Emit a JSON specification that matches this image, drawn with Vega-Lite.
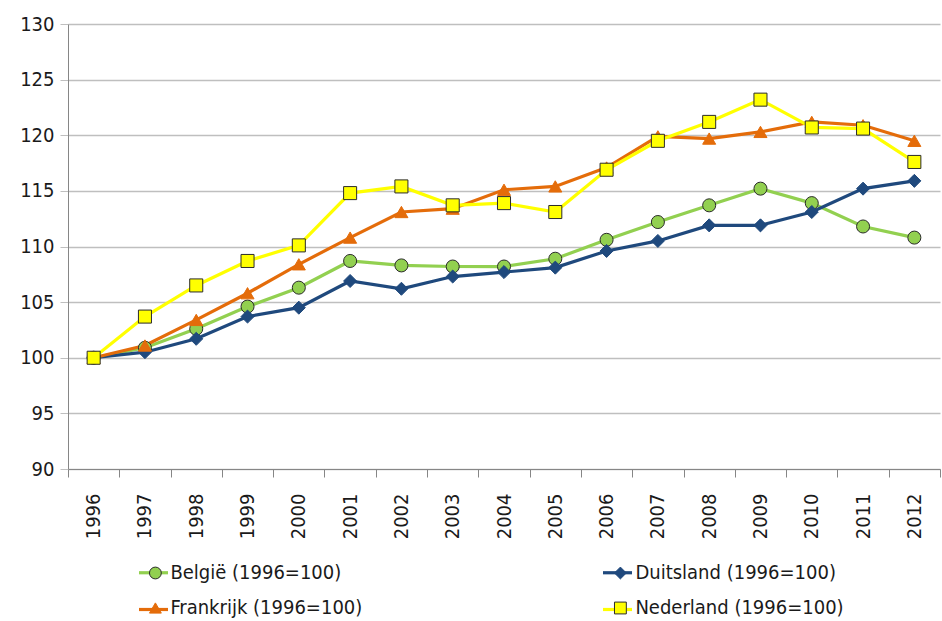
{
  "$schema": "https://vega.github.io/schema/vega-lite/v6.json",
  "width": 872,
  "height": 445,
  "autosize": "none",
  "padding": {"left": 68, "top": 24, "right": 2, "bottom": 152},
  "background": "white",
  "config": {
    "view": {"stroke": null},
    "font": "DejaVu Sans Condensed",
    "axis": {"labelFont": "DejaVu Sans Condensed", "labelColor": "#1a1a1a", "labelFontSize": 20},
    "legend": {"labelFont": "DejaVu Sans Condensed", "labelFontSize": 20, "labelColor": "#1a1a1a", "labelLimit": 400}
  },
  "data": {"values": [
    {"year": "1996", "series": "België (1996=100)", "value": 100},
    {"year": "1997", "series": "België (1996=100)", "value": 100.9},
    {"year": "1998", "series": "België (1996=100)", "value": 102.6},
    {"year": "1999", "series": "België (1996=100)", "value": 104.6},
    {"year": "2000", "series": "België (1996=100)", "value": 106.3},
    {"year": "2001", "series": "België (1996=100)", "value": 108.7},
    {"year": "2002", "series": "België (1996=100)", "value": 108.3},
    {"year": "2003", "series": "België (1996=100)", "value": 108.2},
    {"year": "2004", "series": "België (1996=100)", "value": 108.2},
    {"year": "2005", "series": "België (1996=100)", "value": 108.9},
    {"year": "2006", "series": "België (1996=100)", "value": 110.6},
    {"year": "2007", "series": "België (1996=100)", "value": 112.2},
    {"year": "2008", "series": "België (1996=100)", "value": 113.7},
    {"year": "2009", "series": "België (1996=100)", "value": 115.2},
    {"year": "2010", "series": "België (1996=100)", "value": 113.9},
    {"year": "2011", "series": "België (1996=100)", "value": 111.8},
    {"year": "2012", "series": "België (1996=100)", "value": 110.8},
    {"year": "1996", "series": "Duitsland (1996=100)", "value": 100},
    {"year": "1997", "series": "Duitsland (1996=100)", "value": 100.5},
    {"year": "1998", "series": "Duitsland (1996=100)", "value": 101.7},
    {"year": "1999", "series": "Duitsland (1996=100)", "value": 103.7},
    {"year": "2000", "series": "Duitsland (1996=100)", "value": 104.5},
    {"year": "2001", "series": "Duitsland (1996=100)", "value": 106.9},
    {"year": "2002", "series": "Duitsland (1996=100)", "value": 106.2},
    {"year": "2003", "series": "Duitsland (1996=100)", "value": 107.3},
    {"year": "2004", "series": "Duitsland (1996=100)", "value": 107.7},
    {"year": "2005", "series": "Duitsland (1996=100)", "value": 108.1},
    {"year": "2006", "series": "Duitsland (1996=100)", "value": 109.6},
    {"year": "2007", "series": "Duitsland (1996=100)", "value": 110.5},
    {"year": "2008", "series": "Duitsland (1996=100)", "value": 111.9},
    {"year": "2009", "series": "Duitsland (1996=100)", "value": 111.9},
    {"year": "2010", "series": "Duitsland (1996=100)", "value": 113.1},
    {"year": "2011", "series": "Duitsland (1996=100)", "value": 115.2},
    {"year": "2012", "series": "Duitsland (1996=100)", "value": 115.9},
    {"year": "1996", "series": "Frankrijk (1996=100)", "value": 100},
    {"year": "1997", "series": "Frankrijk (1996=100)", "value": 101.1},
    {"year": "1998", "series": "Frankrijk (1996=100)", "value": 103.4},
    {"year": "1999", "series": "Frankrijk (1996=100)", "value": 105.8},
    {"year": "2000", "series": "Frankrijk (1996=100)", "value": 108.4},
    {"year": "2001", "series": "Frankrijk (1996=100)", "value": 110.8},
    {"year": "2002", "series": "Frankrijk (1996=100)", "value": 113.1},
    {"year": "2003", "series": "Frankrijk (1996=100)", "value": 113.4},
    {"year": "2004", "series": "Frankrijk (1996=100)", "value": 115.1},
    {"year": "2005", "series": "Frankrijk (1996=100)", "value": 115.4},
    {"year": "2006", "series": "Frankrijk (1996=100)", "value": 117.1},
    {"year": "2007", "series": "Frankrijk (1996=100)", "value": 119.9},
    {"year": "2008", "series": "Frankrijk (1996=100)", "value": 119.7},
    {"year": "2009", "series": "Frankrijk (1996=100)", "value": 120.3},
    {"year": "2010", "series": "Frankrijk (1996=100)", "value": 121.2},
    {"year": "2011", "series": "Frankrijk (1996=100)", "value": 120.9},
    {"year": "2012", "series": "Frankrijk (1996=100)", "value": 119.5},
    {"year": "1996", "series": "Nederland (1996=100)", "value": 100},
    {"year": "1997", "series": "Nederland (1996=100)", "value": 103.7},
    {"year": "1998", "series": "Nederland (1996=100)", "value": 106.5},
    {"year": "1999", "series": "Nederland (1996=100)", "value": 108.7},
    {"year": "2000", "series": "Nederland (1996=100)", "value": 110.1},
    {"year": "2001", "series": "Nederland (1996=100)", "value": 114.8},
    {"year": "2002", "series": "Nederland (1996=100)", "value": 115.4},
    {"year": "2003", "series": "Nederland (1996=100)", "value": 113.7},
    {"year": "2004", "series": "Nederland (1996=100)", "value": 113.9},
    {"year": "2005", "series": "Nederland (1996=100)", "value": 113.1},
    {"year": "2006", "series": "Nederland (1996=100)", "value": 116.9},
    {"year": "2007", "series": "Nederland (1996=100)", "value": 119.5},
    {"year": "2008", "series": "Nederland (1996=100)", "value": 121.2},
    {"year": "2009", "series": "Nederland (1996=100)", "value": 123.2},
    {"year": "2010", "series": "Nederland (1996=100)", "value": 120.7},
    {"year": "2011", "series": "Nederland (1996=100)", "value": 120.6},
    {"year": "2012", "series": "Nederland (1996=100)", "value": 117.6}
  ]},
  "encoding": {
    "x": {
      "field": "year", "type": "ordinal",
      "scale": {"type": "band", "paddingInner": 0, "paddingOuter": 0},
      "axis": {"title": null, "labelAngle": -90, "labelPadding": 16, "domainColor": "#868686", "tickColor": "#868686", "tickSize": 8, "tickBand": "extent", "labelBaseline": "middle"}
    },
    "y": {
      "field": "value", "type": "quantitative",
      "scale": {"domain": [90, 130], "nice": false, "zero": false},
      "axis": {"title": null, "values": [90, 95, 100, 105, 110, 115, 120, 125, 130], "grid": true, "gridColor": "#BFBFBF", "gridWidth": 1.3, "domainColor": "#868686", "tickColor": "#BFBFBF", "tickSize": 8, "labelPadding": 6}
    }
  },
  "layer": [
    {
      "mark": {"type": "line", "strokeWidth": 3.2},
      "encoding": {
        "color": {"field": "series", "type": "nominal",
          "scale": {"domain": ["België (1996=100)", "Duitsland (1996=100)", "Frankrijk (1996=100)", "Nederland (1996=100)"], "range": ["#92D050", "#1F497D", "#E46C0A", "#FFFF00"]},
          "legend": {"title": null, "orient": "none", "direction": "horizontal", "legendX": 69, "legendY": 532, "columns": 2, "columnPadding": 421, "rowPadding": 10, "labelOffset": 3, "symbolType": "stroke", "symbolSize": 841, "symbolStrokeWidth": 3.2, "labelExpr": "' '"}}
      }
    },
    {
      "mark": {"type": "point", "filled": true, "opacity": 1, "strokeWidth": 1},
      "encoding": {
        "fill": {"field": "series", "type": "nominal",
          "scale": {"range": ["#92D050", "#1F497D", "#E46C0A", "#FFFF00"]},
          "legend": {"title": null, "orient": "none", "direction": "horizontal", "legendX": 77.4, "legendY": 539, "columns": 2, "columnPadding": 248, "rowPadding": 15, "labelOffset": 5, "symbolSize": 140, "symbolStrokeWidth": 1}},
        "stroke": {"field": "series", "type": "nominal",
          "scale": {"range": ["#2b2b2b", "#1F497D", "#E46C0A", "#2b2b2b"]}},
        "shape": {"field": "series", "type": "nominal",
          "scale": {"range": ["circle", "diamond", "triangle-up", "square"]}},
        "size": {"field": "series", "type": "nominal",
          "scale": {"domain": ["Nederland (1996=100)", "Frankrijk (1996=100)", "Duitsland (1996=100)", "België (1996=100)"], "range": [170, 170, 110, 150]}, "legend": null}
      }
    }
  ]
}
